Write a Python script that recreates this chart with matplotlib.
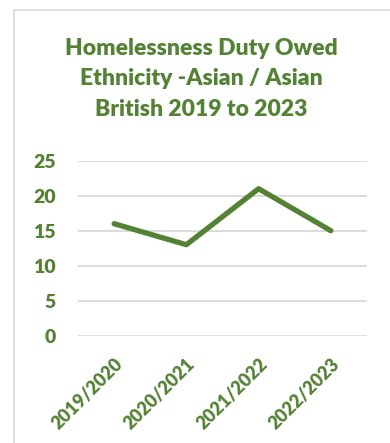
import matplotlib
matplotlib.use("Agg")
import matplotlib.pyplot as plt
from matplotlib.lines import Line2D

# homelessness duty owed, Asian / Asian British
years = ["2019/2020", "2020/2021", "2021/2022", "2022/2023"]
cases = [16, 13, 21, 15]
yticks = [0, 5, 10, 15, 20, 25]

green = "#548235"
plt.rcParams['font.family'] = ['Lato', 'DejaVu Sans']

fig = plt.figure(figsize=(3.9, 4.43), dpi=100)
W, H = 390, 443

# chart frame (runs off the right and bottom edges)
fig.add_artist(Line2D([14 / W, 14 / W], [0, 1 - 10 / H], color="#d9d9d9", lw=1.2))
fig.add_artist(Line2D([14 / W, 1], [1 - 10 / H, 1 - 10 / H], color="#d9d9d9", lw=1.2))

ax = fig.add_axes([78 / W, 1 - 335.7 / H, 289 / W, 175 / H])
ax.plot(range(len(years)), cases, color=green, lw=3.8, solid_capstyle="round", zorder=3)
ax.set_xlim(-0.5, len(years) - 0.5)
ax.set_ylim(0, 25)
ax.set_yticks(yticks)
ax.set_yticklabels([str(v) for v in yticks], color=green, fontsize=14, fontweight="heavy")
ax.yaxis.grid(True, color="#d9d9d9", lw=1.3)
ax.set_axisbelow(True)
ax.tick_params(axis="y", length=0, pad=16)
ax.set_xticks(range(len(years)))
ax.set_xticklabels(years, rotation=45, ha="right", rotation_mode="anchor",
                   color=green, fontsize=13, fontweight="heavy")
ax.tick_params(axis="x", length=0, pad=14)
for s in ax.spines.values():
    s.set_visible(False)

fig.text(201 / W, 1 - 38 / H, "Homelessness Duty Owed\nEthnicity -Asian / Asian\nBritish 2019 to 2023",
         ha="center", va="top", color=green, fontsize=16.5, fontweight="heavy", linespacing=1.55)

fig.savefig("out.png", dpi=100)
